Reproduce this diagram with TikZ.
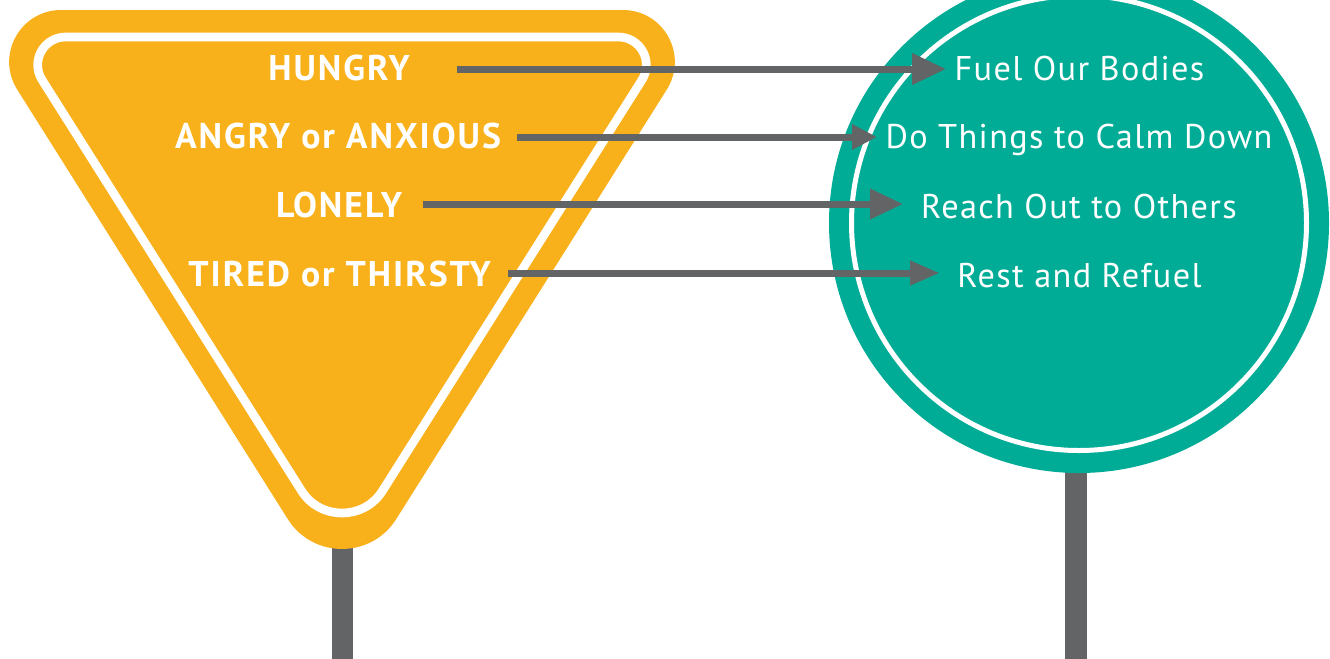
\documentclass[tikz,border=0pt]{standalone}
\usepackage{fontspec}
\newfontfamily\labfont[LetterSpace=5.5]{PT Sans}
\newfontfamily\rlabfont[LetterSpace=4]{PT Sans}
\usetikzlibrary{arrows.meta,calc}
\definecolor{signorange}{HTML}{F9B11B}
\definecolor{signteal}{HTML}{00AC96}
\definecolor{postgray}{HTML}{636466}
\begin{document}
\begin{tikzpicture}[x=0.75pt,y=-0.75pt,
  post/.style={fill=postgray,draw=none},
  lefttext/.style={text=white,inner sep=0pt,anchor=base,font=\labfont\bfseries\fontsize{26.8}{30}\selectfont},
  righttext/.style={text=white,inner sep=0pt,anchor=base,font=\rlabfont\fontsize{25.7}{30}\selectfont},
  arr/.style 2 args={draw=postgray,line width=5.25pt,-{Triangle[length=#1,width=#2]}}]
\useasboundingbox (0,0) rectangle (1330,658);
\clip (0,0) rectangle (1330,658);
% posts
\fill[post] (332,520) rectangle (353,660);
\fill[post] (1065,440) rectangle (1087,660);
% orange sign
\fill[signorange] (61.2,10) -- (622.8,10)
  .. controls ($(622.8,10)!0.435!(717,10)$) and ($(666.73,89.66)!0.435!(717,10)$) .. (666.73,89.66)
  -- (396.21,519.08)
  .. controls ($(396.21,519.08)!0.4635!(342,605)$) and ($(287.79,519.08)!0.4635!(342,605)$) .. (287.79,519.08)
  -- (17.27,89.66)
  .. controls ($(17.27,89.66)!0.435!(-33,10)$) and ($(61.2,10)!0.435!(-33,10)$) .. (61.2,10) -- cycle;
\draw[white,line width=6.5pt] (65.7,37) -- (618.3,37)
  .. controls ($(618.3,37)!0.435!(669,37)$) and ($(641.95,79.9)!0.435!(669,37)$) .. (641.95,79.9)
  -- (382.55,490.7)
  .. controls ($(382.55,490.7)!0.4635!(342,555)$) and ($(301.45,490.7)!0.4635!(342,555)$) .. (301.45,490.7)
  -- (42.05,79.9)
  .. controls ($(42.05,79.9)!0.435!(15,37)$) and ($(65.7,37)!0.435!(15,37)$) .. (65.7,37) -- cycle;
% teal sign
\fill[signteal] (1079,223) circle[radius=250];
\draw[white,line width=3.75pt] (1079,223) circle[radius=227.5];
% texts
\node[lefttext] (hungry) at (339,80) {HUNGRY};
\node[lefttext] (angry) at (338,148) {ANGRY or ANXIOUS};
\node[lefttext] (lonely) at (339,217) {LONELY};
\node[lefttext] (tired) at (339.5,286) {TIRED or THIRSTY};
\node[righttext] (fuel) at (1079.5,80) {Fuel Our Bodies};
\node[righttext] (calm) at (1079,148) {Do Things to Calm Down};
\node[righttext] (reach) at (1079,218) {Reach Out to Others};
\node[righttext] (rest) at (1079.5,287) {Rest and Refuel};
% arrow ends
\coordinate (h0) at (457,69);  \coordinate (h1) at (946,69);
\coordinate (a0) at (517,137); \coordinate (a1) at (877,137);
\coordinate (l0) at (423,204); \coordinate (l1) at (903,204);
\coordinate (t0) at (508,273); \coordinate (t1) at (940,273);
\draw[arr={25.5pt}{22.5pt}] (h0) -- (h1);
\draw[arr={18.75pt}{18pt}] (a0) -- (a1);
\draw[arr={24.75pt}{21.75pt}] (l0) -- (l1);
\draw[arr={22.5pt}{17.25pt}] (t0) -- (t1);
\end{tikzpicture}
\end{document}
